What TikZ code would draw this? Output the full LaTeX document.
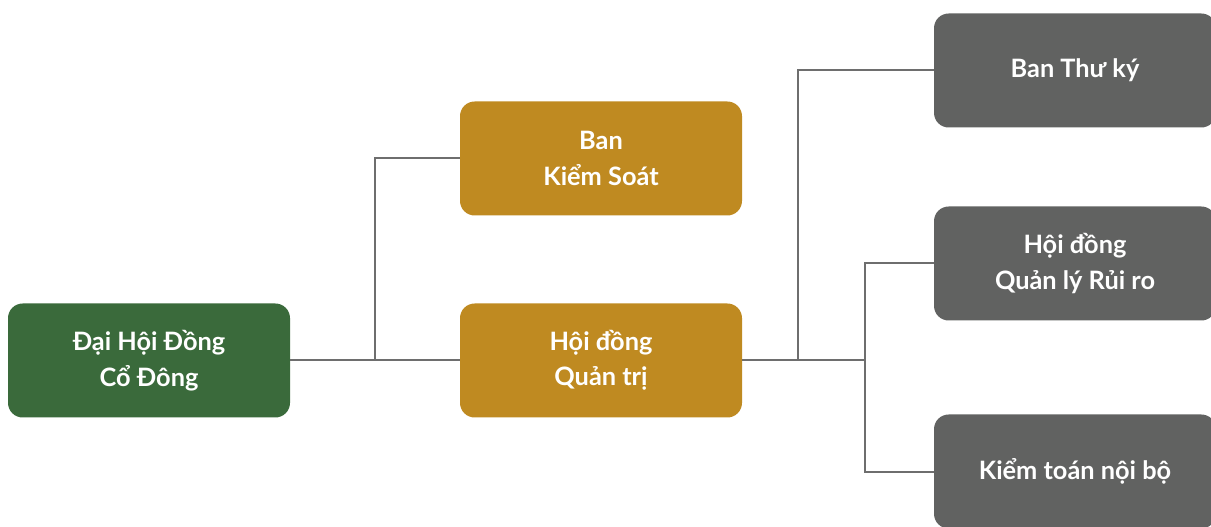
\documentclass[tikz,border=0pt]{standalone}
\usepackage{fontspec}
\setmainfont{Lato}
\definecolor{xanhdam}{HTML}{3A6A3B}
\definecolor{vangdong}{HTML}{BF8A21}
\definecolor{xamdam}{HTML}{616261}
\definecolor{duongnoi}{HTML}{6E6E6E}
\begin{document}
\begin{tikzpicture}[x=0.75pt,y=-0.75pt,
    khoi/.style={rounded corners=11pt, minimum width=211.5pt, minimum height=85.5pt,
      text=white, align=center, font=\fontsize{19}{26.5}\selectfont\bfseries, inner sep=0pt},
    noi/.style={draw=duongnoi, line width=1.5pt}]
  \useasboundingbox (0,0) rectangle (1211,527); \clip (0,0) rectangle (1211,527);
  \node[khoi, fill=xanhdam] (dhcd) at (149,360.5) {Đại Hội Đồng\\Cổ Đông};
  \node[khoi, fill=vangdong] (bks) at (601,158.5) {Ban\\Kiểm Soát};
  \node[khoi, fill=vangdong] (hdqt) at (601,360.5) {Hội đồng\\Quản trị};
  \node[khoi, fill=xamdam] (btk) at (1075,70.5) {Ban Thư ký};
  \node[khoi, fill=xamdam] (qlrr) at (1075,263.5) {Hội đồng\\Quản lý Rủi ro};
  \node[khoi, fill=xamdam] (ktnb) at (1075,471.5) {Kiểm toán nội bộ};
  \draw[noi] (dhcd.east) -- (hdqt.west);
  \draw[noi] (hdqt.west) -- ++(-85,0) |- (bks.west);
  \draw[noi] (hdqt.east) -- ++(56,0) |- (btk.west);
  \draw[noi] (hdqt.east) -- ++(123,0) |- (qlrr.west);
  \draw[noi] (hdqt.east) ++(123,0) |- (ktnb.west);
\end{tikzpicture}
\end{document}
